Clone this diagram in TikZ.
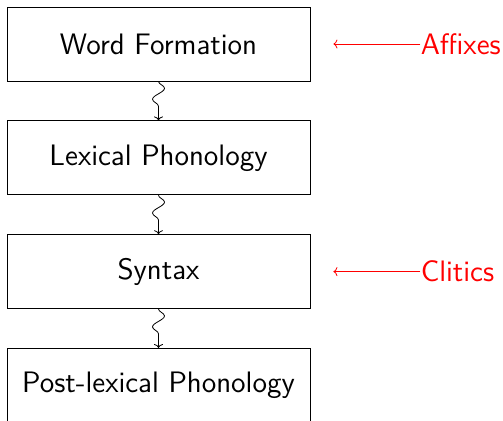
\documentclass[tikz,border=0pt]{standalone}
\usetikzlibrary{positioning,decorations.pathmorphing,arrows.meta}

\begin{document}
\begin{tikzpicture}[
    font=\sffamily\fontsize{14.8}{18}\selectfont,
    >={To[length=2pt, width=4.5pt]},
    module/.style={rectangle, draw, minimum width=151.5pt, minimum height=37pt, inner sep=0pt},
    feeds/.style={->, decorate, decoration={snake, amplitude=3pt, segment length=11pt, post length=3pt}},
    attach/.style={red, inner sep=0pt},
    pointer/.style={red, ->}
]

    % Bounding box
    \useasboundingbox (0,0) rectangle (251.5pt,-210pt);

    % Modules
    \node[module] (wf) at (79.25pt,-22pt) {Word Formation};
    \node[module, below=19.5pt of wf] (lex) {Lexical Phonology};
    \node[module, below=19.5pt of lex] (syn) {Syntax};
    \node[module, below=19.5pt of syn] (post) {Post-lexical Phonology};

    % Labels
    \node[attach, right=55pt of wf] (affixes) {Affixes};
    \node[attach, right=55pt of syn] (clitics) {Clitics};
    \coordinate[right=11.5pt of wf] (affixesend);
    \coordinate[right=11.5pt of syn] (cliticsend);

    % Arrows
    \draw[feeds] (wf) -- (lex);
    \draw[feeds] (lex) -- (syn);
    \draw[feeds] (syn) -- (post);

    \draw[pointer] (affixes) -- (affixesend);
    \draw[pointer] (clitics) -- (cliticsend);

\end{tikzpicture}
\end{document}
